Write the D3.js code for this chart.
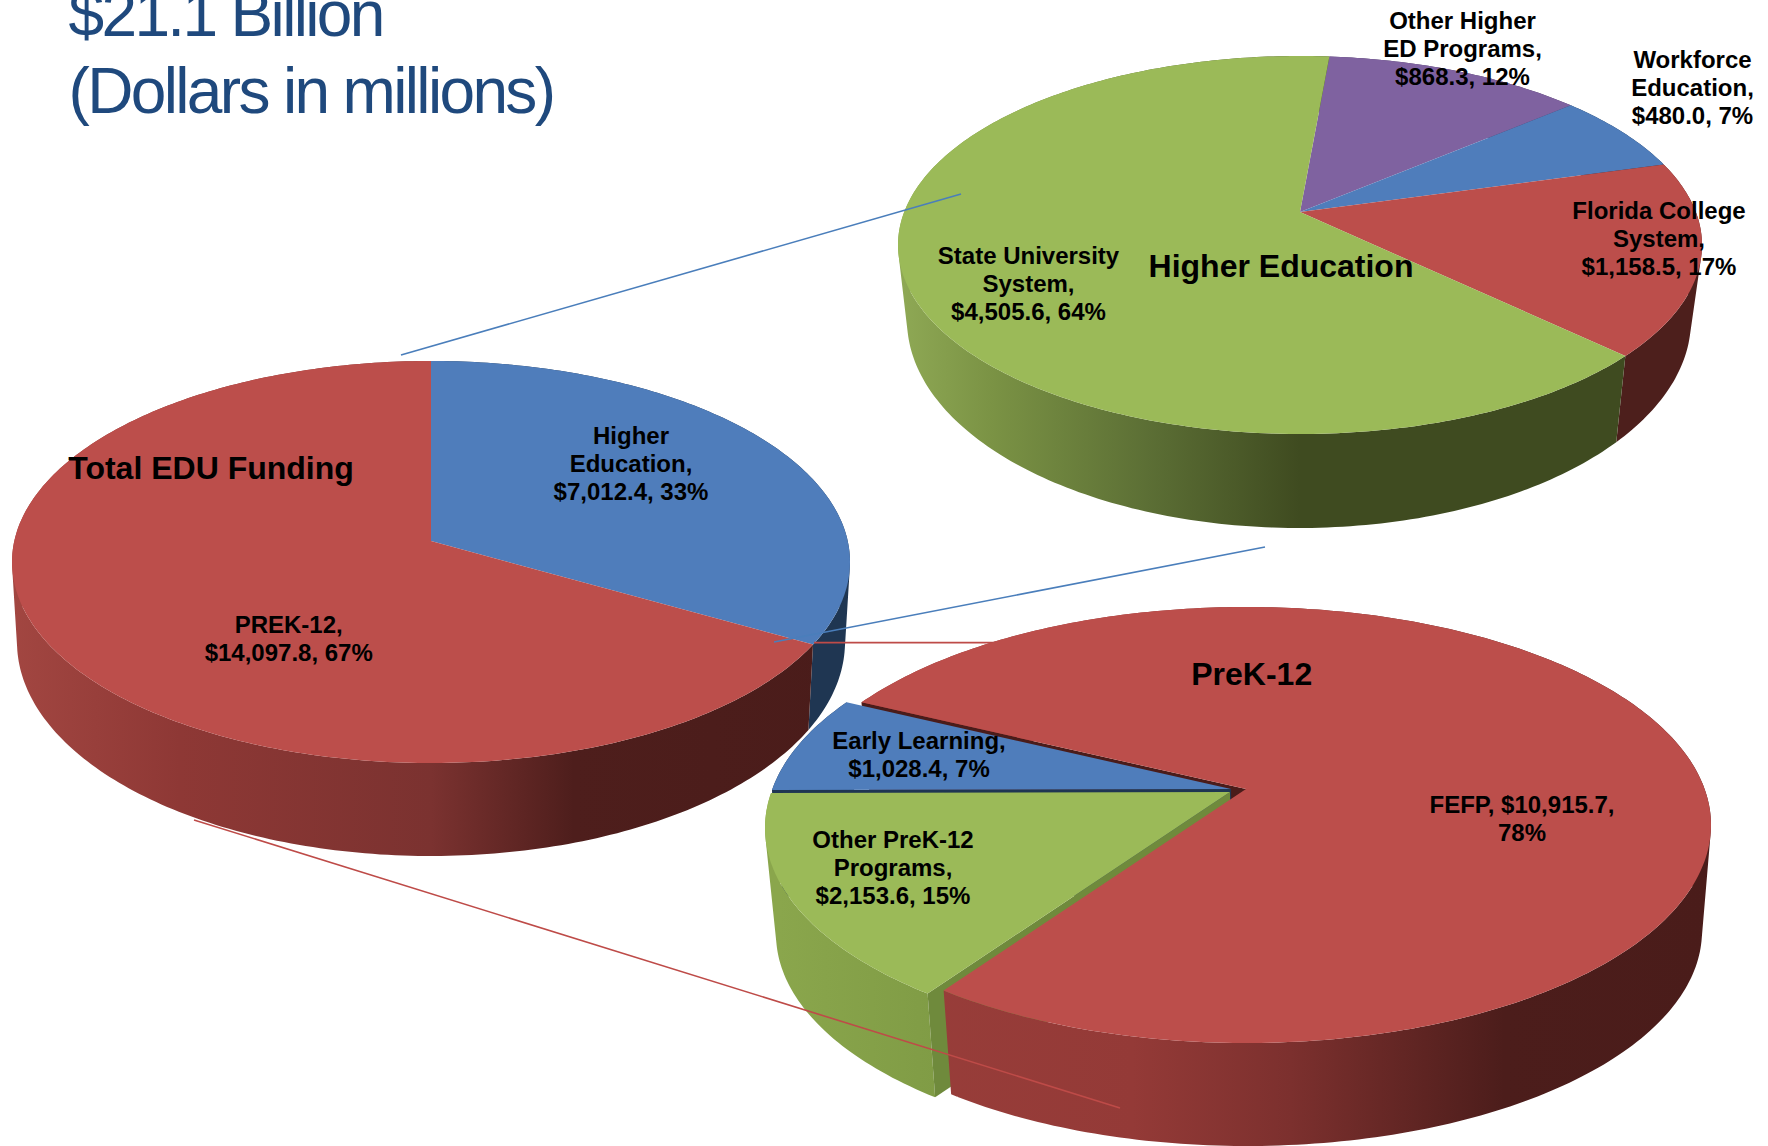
<!DOCTYPE html>
<html>
<head>
<meta charset="utf-8">
<script src="https://cdn.jsdelivr.net/npm/d3@7/dist/d3.min.js"></script>
<style>
html,body{margin:0;padding:0;background:#fff;overflow:hidden}
text{font-family:"Liberation Sans",Arial,sans-serif;fill:#000}
</style>
</head>
<body>
<svg id="c" width="1768" height="1146" xmlns="http://www.w3.org/2000/svg"></svg>
<script>
// ---------- data ----------
const titleLines = ["$21.1 Billion", "(Dollars in millions)"];

const totalNames = [["Higher","Education,"], ["PREK-12,"]];
const totalValues = [7012.4, 14097.8];
const totalPct = [33, 67];

const higherNames = [["Other Higher","ED Programs,"], ["Workforce","Education,"], ["Florida College","System,"], ["State University","System,"]];
const higherValues = [868.3, 480.0, 1158.5, 4505.6];
const higherPct = [12, 7, 17, 64];

const prekNames = [["FEFP, $10,915.7,"], ["Other PreK-12","Programs,"], ["Early Learning,"]];
const prekValues = [10915.7, 2153.6, 1028.4];
const prekPct = [78, 15, 7];

// ---------- palette ----------
const RED="#BC4E4B", BLUE="#4F7DBB", GREEN="#9BBA58", PURPLE="#7F62A0";
const DARK_BLUE="#1F3652";

// ---------- layout ----------
const svg = d3.select("#c");
const defs = svg.append("defs");
let gid = 0;
function sideGradient(stops, x0, x1){
  const id = "g"+(gid++);
  const g = defs.append("linearGradient").attr("id",id).attr("gradientUnits","userSpaceOnUse")
    .attr("x1",x0).attr("x2",x1).attr("y1",0).attr("y2",0);
  stops.forEach(s=>g.append("stop").attr("offset",s[0]).attr("stop-color",s[1]));
  return "url(#"+id+")";
}
const lineGen = d3.line();

// perspective map of the unit disc to an ellipse: centre goes to (0,a), rim stays on rim
function project(e, theta, r){
  const u = Math.sin(theta)*r, v = -Math.cos(theta)*r;
  const d = 1 + e.a*v;
  return [e.cx + e.rx*u*Math.sqrt(1-e.a*e.a)/d, e.cy + e.ry*(v+e.a)/d];
}
function rim(e, t0, t1){
  const n = Math.max(2, Math.ceil(Math.abs(t1-t0)*60));
  return d3.range(n+1).map(i=>project(e, t0+(t1-t0)*i/n, 1));
}
function shifted(e, s){ return {...e, cx:e.cx+(s?s[0]:0), cy:e.cy+(s?s[1]:0)}; }

// band swept between the upper and lower rim, as one path of same-wound quads
function wallPath(top, low, t0, t1){
  const up = rim(top,t0,t1), dn = rim(low,t0,t1);
  return d3.range(up.length-1).map(k=>{
    const q = [up[k],up[k+1],dn[k+1],dn[k]];
    if (d3.polygonArea(q) < 0) q.reverse();
    return lineGen(q)+"Z";
  }).join("");
}

function drawPie(cfg){
  const arcs = d3.pie().sort(null).value(d=>d)
    .startAngle(cfg.start).endAngle(cfg.start+2*Math.PI)(cfg.values);
  const g = svg.append("g");
  // paint steps: [slice index, "cut" | "wall" | "wallBack" | "wallFront"]
  const steps = cfg.steps || arcs.map((_,i)=>[i,"wall"]);
  steps.forEach(([i,part])=>{
    const a = arcs[i], off = cfg.offsets ? cfg.offsets[i] : null;
    const top = shifted(cfg.top,off), low = shifted(cfg.low,off);
    const s = cfg.side[i];
    if (part==="cut"){
      [a.startAngle,a.endAngle].forEach((t,k)=>{
        if (!s.cut || !s.cut[k]) return;
        g.append("path").attr("fill",s.cut[k]).attr("d",lineGen([
          project(top,t,0),project(top,t,1),project(low,t,1),project(low,t,0)])+"Z");
      });
    } else {
      const mid = (a.startAngle+a.endAngle)/2;
      const t0 = part==="wallFront" ? mid : a.startAngle;
      const t1 = part==="wallBack" ? mid : a.endAngle;
      g.append("path")
        .attr("fill",sideGradient(s.stops,cfg.top.cx-cfg.top.rx,cfg.top.cx+cfg.top.rx))
        .attr("fill-rule","nonzero")
        .attr("d",wallPath(top,low,t0,t1));
    }
  });
  arcs.forEach((a,i)=>{
    const off = cfg.offsets ? cfg.offsets[i] : null;
    const top = shifted(cfg.top,off);
    g.append("path").attr("fill",cfg.colors[i])
      .attr("d",lineGen([project(top,0,0)].concat(rim(top,a.startAngle,a.endAngle)))+"Z");
  });
}

function connector(p, color){
  svg.append("line").attr("x1",p[0]).attr("y1",p[1]).attr("x2",p[2]).attr("y2",p[3])
    .attr("stroke",color).attr("stroke-width",1.6);
}

function label(lines, x, y, size, lh){
  const t = svg.append("text").attr("text-anchor","middle").attr("font-weight","bold")
    .attr("font-size",size).attr("transform","translate("+x+","+y+")");
  lines.forEach((l,i)=>t.append("tspan").attr("x",0).attr("y",i*lh).text(l));
}
const money = d3.format("$,.1f");
function dataLines(names, values, pct, i){
  const v = money(values[i])+", "+pct[i]+"%";
  return names[i].concat([v]);
}

// ---------- title ----------
titleLines.forEach((t,i)=>svg.append("text").attr("x",68.5).attr("y",36+i*76.5)
  .attr("font-size",64).attr("letter-spacing",-2.65).style("fill","#1F497D").text(t));

// ---------- Higher Education pie ----------
drawPie({
  values:higherValues, colors:[PURPLE,BLUE,RED,GREEN],
  start:5.0*Math.PI/180,
  top:{cx:1300,cy:245,rx:402,ry:189,a:-0.174},
  low:{cx:1299,cy:320,rx:392,ry:208,a:-0.174},
  side:[
    {stops:[[0,"#4c3a62"],[1,"#4c3a62"]]},
    {stops:[[0,DARK_BLUE],[1,DARK_BLUE]]},
    {stops:[[0,"#4D1F1C"],[1,"#4D1F1C"]]},
    {stops:[[0,"#8FA955"],[0.12,"#7A9244"],[0.31,"#5C6F35"],[0.5,"#3F4B20"],[1,"#3F4B20"]]}
  ]
});

// ---------- Total pie ----------
drawPie({
  values:totalValues, colors:[BLUE,RED],
  start:0,
  top:{cx:431,cy:562,rx:419,ry:201,a:-0.104},
  low:{cx:431,cy:642,rx:414,ry:214,a:-0.104},
  side:[
    {stops:[[0,DARK_BLUE],[1,DARK_BLUE]]},
    {stops:[[0,"#A24641"],[0.2,"#8E3835"],[0.5,"#7B3230"],[0.67,"#4E1E1C"],[1,"#4A1C1A"]]}
  ]
});

// connector that runs beneath the PreK-12 pie
connector([814,642.6,997,642.6],"#BE4B48");

// ---------- PreK-12 pie ----------
drawPie({
  values:prekValues, colors:[RED,GREEN,BLUE],
  start:296*Math.PI/180,
  top:{cx:1244,cy:825,rx:465,ry:218,a:-0.165},
  low:{cx:1245,cy:931,rx:455,ry:215,a:-0.165},
  offsets:[[2,0],[-14,3],[-13,0]],
  steps:[[0,"wallBack"],[0,"cut"],[2,"wall"],[2,"cut"],[1,"wall"],[1,"cut"],[0,"wallFront"]],
  side:[
    {stops:[[0,"#9A3F3B"],[0.38,"#943A37"],[0.55,"#7C302E"],[0.78,"#4C1D1B"],[1,"#4A1C1A"]],cut:["#4A1C1A",null]},
    {stops:[[0,"#8AA64C"],[0.2,"#7E9A44"],[1,"#7E9A44"]],cut:["#6F8A3C",null]},
    {stops:[[0,DARK_BLUE],[1,DARK_BLUE]],cut:[DARK_BLUE,null]}
  ]
});

// connectors drawn above the pies
connector([401,355,961,194],"#4A7EBB");
connector([774,642,1265,547],"#4A7EBB");
connector([194,820,1120,1108],"#BE4B48");

// ---------- labels ----------
const LH=28, SZ=24, TS=32;
label(dataLines(totalNames,totalValues,totalPct,0),631,444,SZ,LH);
label(dataLines(totalNames,totalValues,totalPct,1),288.7,633,SZ,LH);
label(["Total EDU Funding"],211,479,TS,LH);

label(dataLines(higherNames,higherValues,higherPct,3),1028.5,263.5,SZ,LH);
label(["Higher Education"],1281,277,TS,LH);
label(dataLines(higherNames,higherValues,higherPct,0),1462.5,29,SZ,LH);
label(dataLines(higherNames,higherValues,higherPct,1),1692.5,67.5,SZ,LH);
label(dataLines(higherNames,higherValues,higherPct,2),1659,218.5,SZ,LH);

label(["PreK-12"],1251.7,685,TS,LH);
label(["FEFP, $10,915.7,", prekPct[0]+"%"],1522,813,SZ,LH);
label(dataLines(prekNames,prekValues,prekPct,2),919,748.5,SZ,LH);
label(dataLines(prekNames,prekValues,prekPct,1),893,847.5,SZ,LH);
</script>
</body>
</html>
